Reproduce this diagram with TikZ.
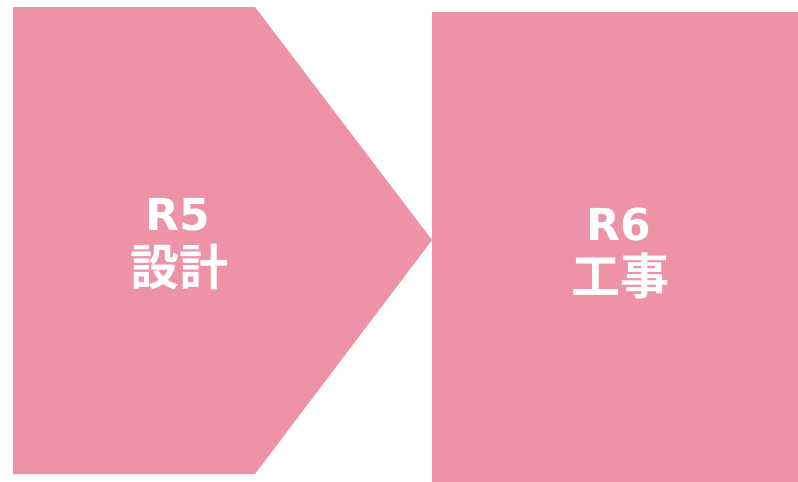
\documentclass[tikz,border=0pt]{standalone}
\usepackage{fontspec}
\newfontfamily\cjk{Noto Sans CJK JP Bold}
\newfontfamily\lat{DejaVu Sans Bold}
\definecolor{pinkfill}{RGB}{238,147,166}
\begin{document}
\begin{tikzpicture}[x=1pt,y=-1pt,
  lbl/.style={text=white,inner sep=0pt,anchor=base},
  latlbl/.style={lbl,font=\lat\fontsize{44}{50}\selectfont},
  cjklbl/.style={lbl,font=\cjk\fontsize{49}{54}\selectfont}]
\useasboundingbox (0,0) rectangle (798,482);
\fill[pinkfill] (13,7) -- (255,7) -- (432,240) -- (255,474) -- (13,474) -- cycle;
\fill[pinkfill] (432,12) rectangle (798,482);
\node[latlbl] (a1) at (178,230) {R5};
\node[cjklbl] (a2) at (179,285) {設計};
\node[latlbl] (b1) at (619,240) {R6};
\node[cjklbl] (b2) at (620,294) {工事};
\end{tikzpicture}
\end{document}
